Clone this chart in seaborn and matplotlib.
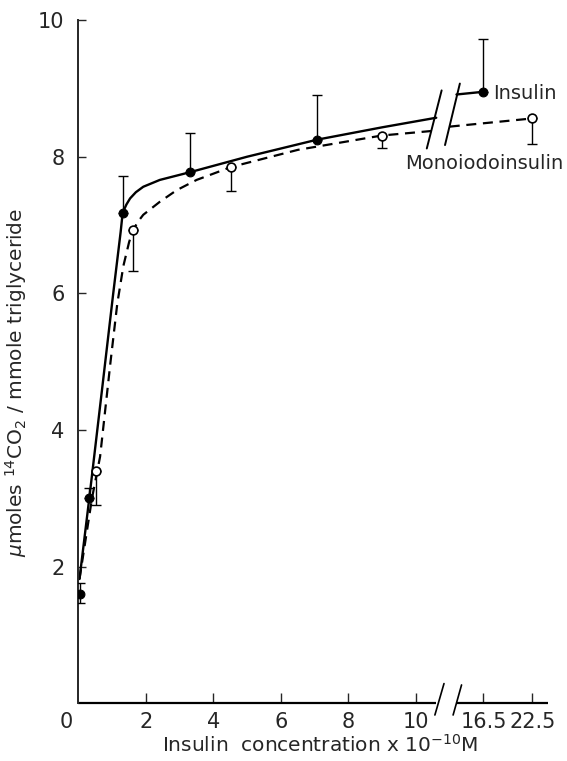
import matplotlib
matplotlib.use("Agg")
import matplotlib.pyplot as plt
import matplotlib.transforms as mtrans
import numpy as np
import pandas as pd
import seaborn as sns

# ---------------- data (concentration x 1e-10 M ; umoles 14CO2 / mmole TG) -------------
ins_conc = [0.05, 0.32, 1.31, 3.31, 7.08, 16.5]
ins_val = [1.60, 3.00, 7.18, 7.77, 8.25, 8.95]
ins_err_up = [0.16, 0.15, 0.54, 0.58, 0.66, 0.77]
ins_err_dn = [0.13, 0.00, 0.00, 0.00, 0.00, 0.00]

mono_conc = [0.51, 1.62, 4.53, 8.99, 22.5]
mono_val = [3.40, 6.93, 7.85, 8.31, 8.56]
mono_err_dn = [0.50, 0.61, 0.35, 0.19, 0.38]

# hand-drawn curves (left of the axis break)
ins_curve_x = [0.03, 0.32, 0.70, 1.03, 1.25, 1.31, 1.42, 1.53, 1.70, 1.92, 2.41, 3.28, 5.0, 7.08, 9.0, 10.6]
ins_curve_y = [1.82, 3.00, 4.60, 6.00, 6.90, 7.18, 7.30, 7.39, 7.48, 7.56, 7.66, 7.77, 8.00, 8.25, 8.43, 8.57]
mono_curve_x = [0.03, 0.40, 0.64, 0.95, 1.15, 1.33, 1.50, 1.62, 1.78, 1.92, 2.41, 2.91, 3.50, 4.53, 6.5, 8.99, 10.55]
mono_curve_y = [1.82, 3.00, 3.61, 5.00, 5.85, 6.40, 6.75, 6.93, 7.06, 7.15, 7.34, 7.51, 7.66, 7.85, 8.10, 8.31, 8.38]
# curve pieces right of the break (start value, end value)
ins_right_y = [8.91, 8.95]
mono_right_y = [8.44, 8.56]

xtick_vals = [0, 2, 4, 6, 8, 10, 16.5, 22.5]
xtick_labels = ["0", "2", "4", "6", "8", "10", "16.5", "22.5"]
ytick_vals = [2, 4, 6, 8, 10]


def pos(c):
    """broken-axis scale: 0-10.6 linear, 16.5 and above compressed after the break"""
    c = np.asarray(c, dtype=float)
    return np.where(c <= 10.6, c, 12.0 + (c - 16.5) * 1.45 / 6.0)


sns.set_style("ticks")
plt.rcParams["font.family"] = ["DejaVu Sans"]
plt.rcParams["mathtext.fontset"] = "dejavusans"

fig = plt.figure(figsize=(5.67, 7.61), dpi=100)
ax = fig.add_axes([0.1384, 0.0757, 0.967 - 0.1384, 0.9737 - 0.0757])

# curves
sns.lineplot(x=ins_curve_x, y=ins_curve_y, ax=ax, color="black", lw=1.7,
             sort=False, estimator=None)
sns.lineplot(x=[11.2, float(pos(16.5))], y=ins_right_y, ax=ax, color="black",
             lw=1.7, sort=False, estimator=None)
sns.lineplot(x=mono_curve_x, y=mono_curve_y, ax=ax, color="black", lw=1.6,
             sort=False, estimator=None).lines[-1].set_dashes([4.5, 3])
sns.lineplot(x=[11.0, float(pos(22.5))], y=mono_right_y, ax=ax, color="black",
             lw=1.6, sort=False, estimator=None).lines[-1].set_dashes([4.5, 3])

# error bars
ax.errorbar(pos(ins_conc), ins_val, yerr=[ins_err_dn, ins_err_up], fmt="none",
            ecolor="black", elinewidth=1.0, capsize=3.5, capthick=1.0, zorder=3)
ax.errorbar(pos(mono_conc), mono_val, yerr=[mono_err_dn, [0] * len(mono_val)],
            fmt="none", ecolor="black", elinewidth=1.0, capsize=3.5, capthick=1.0, zorder=3)

# markers
sns.scatterplot(x=pos(ins_conc), y=ins_val, ax=ax, color="black", edgecolor="black",
                s=40, linewidth=0.8, zorder=5, legend=False)
sns.scatterplot(x=pos(mono_conc), y=mono_val, ax=ax, color="white", edgecolor="black",
                s=40, linewidth=1.2, zorder=5, legend=False)

# labels for the curves
ax.text(12.28, 8.93, "Insulin", ha="left", va="center", fontsize=14)
ax.text(9.67, 7.90, "Monoiodoinsulin", ha="left", va="center", fontsize=14)

# axes limits and spines
ax.set_xlim(0, 13.92)
ax.set_ylim(0, 10)
ax.spines["top"].set_visible(False)
ax.spines["right"].set_visible(False)
ax.spines["bottom"].set_visible(False)
ax.spines["left"].set_linewidth(1.4)

# broken bottom axis line
ax.plot([0, 10.6], [0, 0], color="black", lw=1.6, clip_on=False, solid_capstyle="butt")
ax.plot([11.2, 13.92], [0, 0], color="black", lw=1.6, clip_on=False, solid_capstyle="butt")
# break marks on the axis
ax.plot([10.56, 10.83], [-0.17, 0.29], color="black", lw=1.2, clip_on=False)
ax.plot([11.10, 11.35], [-0.17, 0.27], color="black", lw=1.2, clip_on=False)
# break marks on the curves
ax.plot([10.32, 10.76], [8.12, 8.97], color="black", lw=1.4, clip_on=False)
ax.plot([10.86, 11.30], [8.17, 9.07], color="black", lw=1.4, clip_on=False)

# ticks
ax.set_yticks(ytick_vals)
ax.set_yticklabels([str(v) for v in ytick_vals])
ax.set_xticks(pos(xtick_vals))
ax.set_xticklabels(xtick_labels)
ax.tick_params(axis="y", direction="in", length=6, width=1.0, pad=10, labelsize=15)
ax.tick_params(axis="x", direction="in", length=7, width=1.0, pad=6, labelsize=15)
xt = ax.get_xticklabels()
xt[0].set_transform(xt[0].get_transform() +
                    mtrans.ScaledTranslation(-12 / 100, 0, fig.dpi_scale_trans))
ax.xaxis.get_major_ticks()[0].tick1line.set_visible(False)

ax.set_xlabel(r"Insulin  concentration x 10$^{-10}$M", fontsize=14.5, labelpad=2)
ax.set_ylabel(r"$\mu$moles $^{14}$CO$_2$ / mmole triglyceride", fontsize=14.5)
ax.yaxis.set_label_coords(-0.105, 0.47)
ax.xaxis.set_label_coords(0.515, -0.045)

fig.savefig("out.png", dpi=100)
